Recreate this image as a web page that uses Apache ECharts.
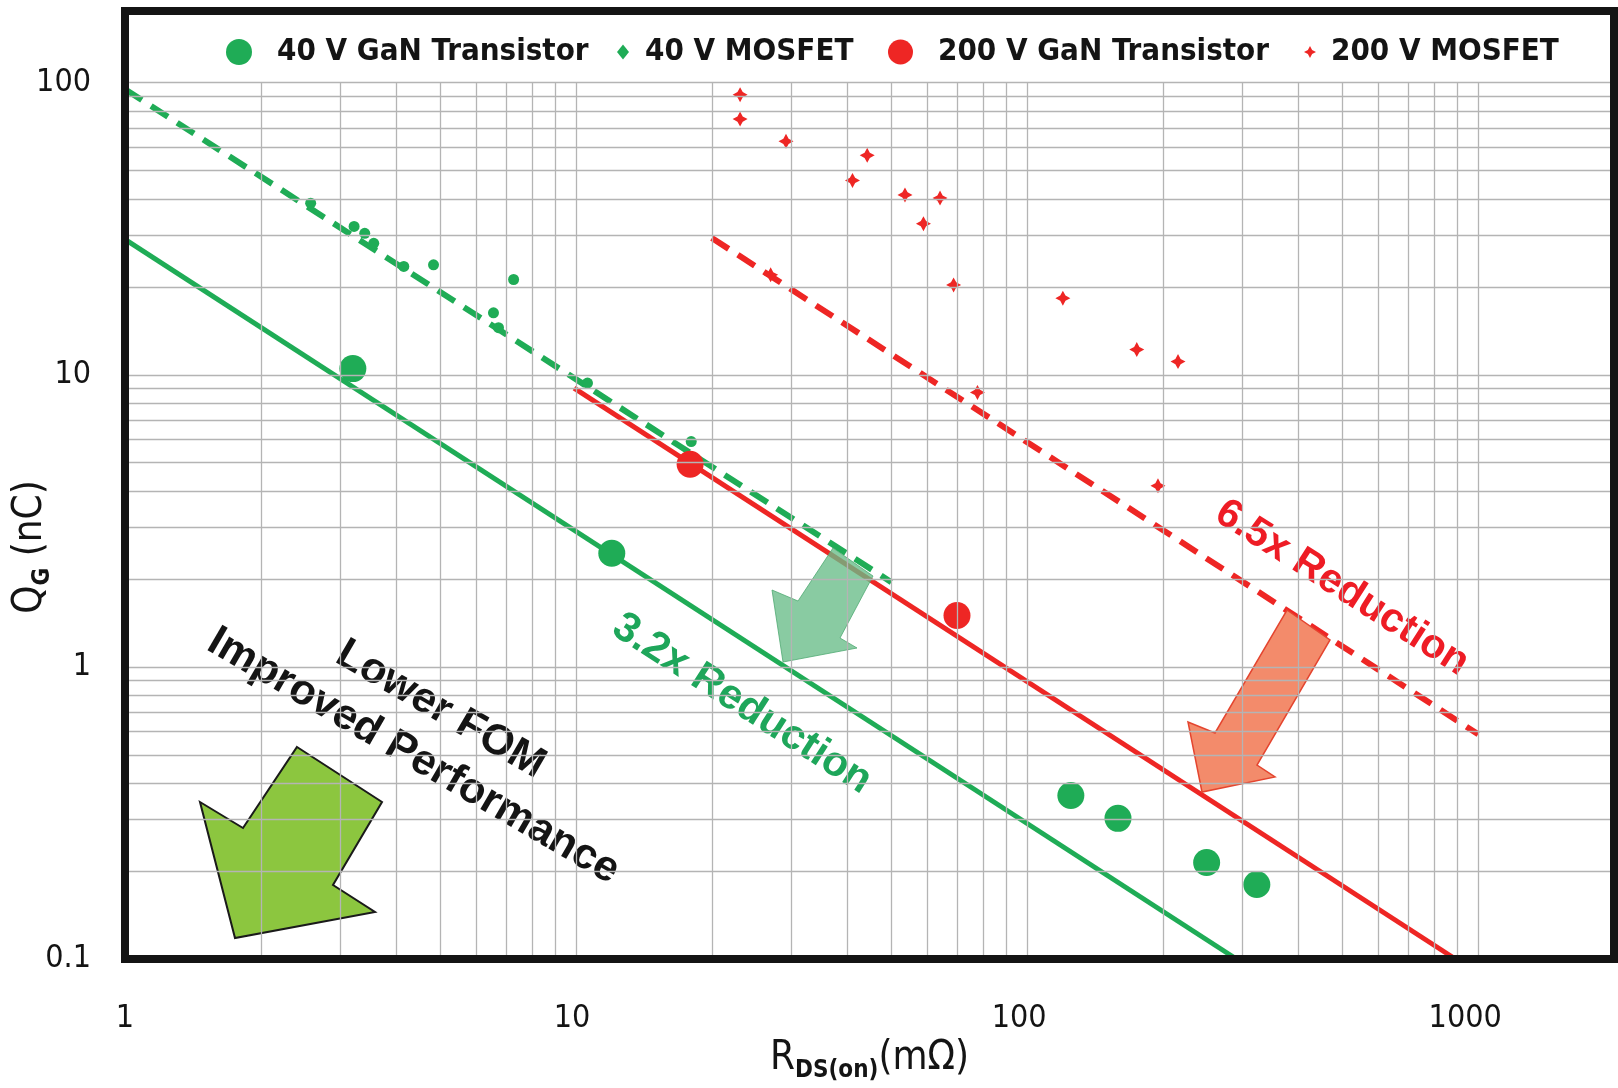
<!DOCTYPE html>
<html>
<head>
<meta charset="utf-8">
<script src="https://cdn.jsdelivr.net/npm/echarts@6/dist/echarts.min.js"></script>
<style>
  html, body { margin: 0; padding: 0; background: #fff; }
  #main { width: 1618px; height: 1088px; }
</style>
</head>
<body>
<div id="main"></div>
<script>
// gate charge vs on-resistance, 40 V and 200 V, GaN vs MOSFET
var ganX40 = [3.2, 12.0, 125, 159, 250, 323];
var ganY40 = [10.5, 2.45, 0.363, 0.303, 0.214, 0.180];
var mosX40 = [2.58, 3.22, 3.4, 3.56, 4.15, 4.83, 6.56, 6.73, 7.27, 10.6, 18.0];
var mosY40 = [38.7, 32.2, 30.5, 28.2, 23.5, 23.8, 16.3, 14.5, 21.2, 9.37, 5.91];
var ganX200 = [17.9, 69.9];
var ganY200 = [4.94, 1.50];
var mosX200 = [23.1, 23.1, 29.2, 44.2, 41.0, 53.6, 64.1, 58.9, 68.7, 120, 175, 216, 27.0, 77.6, 195];
var mosY200 = [91.0, 75.1, 63.0, 56.4, 46.3, 41.3, 40.3, 32.9, 20.3, 18.3, 12.2, 11.1, 22.0, 8.7, 4.17];

// trend lines (end points)
var fitGan40X = [1, 291],   fitGan40Y = [29.1, 0.1];
var fitGan200X = [9.9, 890], fitGan200Y = [9.0, 0.1];
var fitMos40X = [1, 50],    fitMos40Y = [95, 1.95];
var fitMos200X = [20, 1000], fitMos200Y = [29.4, 0.588];

// grid lines
var gridX = [2,3,4,5,6,7,8,9,10,20,30,40,50,60,70,80,90,100,200,300,400,500,600,700,800,900,1000];
var gridY = [0.2,0.3,0.4,0.5,0.6,0.7,0.8,0.9,1,2,3,4,5,6,7,8,9,10,20,30,40,50,60,70,80,90,100];

var legendNames = ['40 V GaN Transistor', '40 V MOSFET', '200 V GaN Transistor', '200 V MOSFET'];

var GREEN = '#1fac56', RED = '#ee2624';
var NARROW = "'Liberation Sans Narrow', 'Arial Narrow', 'DejaVu Sans Condensed', sans-serif";
var ARIAL = "'Liberation Sans', Arial, sans-serif";
var STAR = 'path://M0,-10 L3.5,-3.5 L10,0 L3.5,3.5 L0,10 L-3.5,3.5 L-10,0 L-3.5,-3.5 Z';

function zip(xs, ys) {
    return xs.map(function (x, i) { return [x, ys[i]]; });
}

// decade labels only; the printed ones sit a little left of their grid line
function decadeLabel(v) {
    var k = Math.log(v) / Math.LN10;
    if (Math.abs(k - Math.round(k)) > 1e-6) return '';
    return String(+v.toPrecision(4));
}
function xLabel(v) {
    var s = decadeLabel(v);
    return s ? '{d' + s.length + '|' + s + '}' : '';
}

var gridLines = gridX.map(function (x) {
    return [{coord: [x, 0.1]}, {coord: [x, 100]}];
}).concat(gridY.map(function (y) {
    return {yAxis: y};
}));

function fitLine(xs, ys, color, dashed) {
    return {
        type: 'line',
        data: zip(xs, ys),
        symbol: 'none',
        silent: true,
        z: 3,
        lineStyle: {
            color: color,
            width: dashed ? 6 : 5,
            type: dashed ? [20, 11] : 'solid'
        }
    };
}

function legendAt(name, icon, left, size, pad, color) {
    return {
        left: left,
        top: 32,
        padding: 0,
        selectedMode: false,
        itemWidth: size[0],
        itemHeight: size[1],
        data: [{name: name, icon: icon, itemStyle: {color: color}}],
        textStyle: {
            fontFamily: NARROW, fontWeight: 'bold', fontSize: 31,
            color: '#141414', lineHeight: 40, padding: [0, 0, 0, pad]
        }
    };
}

var subStyle = {fontFamily: NARROW, fontSize: 24, lineHeight: 22, verticalAlign: 'bottom', color: '#141414', fontWeight: 'bold'};

var myChart = echarts.init(document.getElementById('main'));

var option = {
    backgroundColor: '#fff',
    animation: false,
    grid: {
        left: 125, right: 4, top: 11, bottom: 129,
        containLabel: false, outerBoundsMode: 'none',
        show: true, z: 6,
        borderColor: '#141414', borderWidth: 8,
        backgroundColor: 'transparent'
    },
    legend: [
        legendAt(legendNames[0], 'circle', 226, [26, 26], 20, GREEN),
        legendAt(legendNames[1], 'diamond', 617, [12, 15], 11, GREEN),
        legendAt(legendNames[2], 'circle', 888, [25, 25], 20, RED),
        legendAt(legendNames[3], STAR, 1304, [12, 12], 10, RED)
    ],
    xAxis: {
        type: 'log', logBase: 10, min: 1, max: 2000,
        axisLine: {show: false}, axisTick: {show: false}, splitLine: {show: false},
        axisLabel: {
            margin: 44, fontFamily: NARROW, fontSize: 32, color: '#141414',
            formatter: xLabel,
            rich: {
                d1: {fontFamily: NARROW, fontSize: 32, color: '#141414'},
                d2: {fontFamily: NARROW, fontSize: 32, color: '#141414', padding: [0, 8, 0, 0]},
                d3: {fontFamily: NARROW, fontSize: 32, color: '#141414', padding: [0, 16, 0, 0]},
                d4: {fontFamily: NARROW, fontSize: 32, color: '#141414', padding: [0, 26, 0, 0]}
            }
        },
        name: 'R{sub|DS(on)}(mΩ)',
        nameLocation: 'middle',
        nameGap: 76,
        nameMoveOverlap: false,
        nameTextStyle: {
            fontFamily: NARROW, fontSize: 40, color: '#141414', lineHeight: 48,
            rich: {sub: subStyle}
        }
    },
    yAxis: {
        type: 'log', logBase: 10, min: 0.1, max: 176,
        axisLine: {show: false}, axisTick: {show: false}, splitLine: {show: false},
        axisLabel: {
            margin: 34, fontFamily: NARROW, fontSize: 32, color: '#141414',
            formatter: decadeLabel
        },
        name: 'Q{sub|G} (nC)',
        nameLocation: 'middle',
        nameRotate: 90,
        nameGap: 70,
        nameMoveOverlap: false,
        nameTextStyle: {
            fontFamily: NARROW, fontSize: 40, color: '#141414', lineHeight: 48,
            padding: [0, 124, 0, 0],
            rich: {sub: subStyle}
        }
    },
    series: [
        {
            type: 'line', data: [], z: 1, silent: true,
            markLine: {
                silent: true, symbol: ['none', 'none'], animation: false,
                label: {show: false},
                lineStyle: {color: '#b4b4b4', width: 1.3, type: 'solid'},
                data: gridLines
            }
        },
        fitLine(fitGan40X, fitGan40Y, GREEN, false),
        fitLine(fitGan200X, fitGan200Y, RED, false),
        fitLine(fitMos40X, fitMos40Y, GREEN, true),
        fitLine(fitMos200X, fitMos200Y, RED, true),
        {
            name: legendNames[1], type: 'scatter', z: 4,
            symbol: 'circle', symbolSize: 11,
            itemStyle: {color: GREEN, opacity: 1},
            data: zip(mosX40, mosY40)
        },
        {
            name: legendNames[3], type: 'scatter', z: 4,
            symbol: STAR, symbolSize: 15,
            itemStyle: {color: RED, opacity: 1},
            data: zip(mosX200, mosY200)
        },
        {
            name: legendNames[0], type: 'scatter', z: 4,
            symbol: 'circle', symbolSize: 27,
            itemStyle: {color: GREEN, opacity: 1},
            data: zip(ganX40, ganY40)
        },
        {
            name: legendNames[2], type: 'scatter', z: 4,
            symbol: 'circle', symbolSize: 27,
            itemStyle: {color: RED, opacity: 1},
            data: zip(ganX200, ganY200)
        }
    ],
    graphic: [
        {
            type: 'text', z: 2, x: 427, y: 733, rotation: -30.2 * Math.PI / 180,
            style: {
                text: 'Lower FOM\nImproved Performance',
                x: 0, y: 0, align: 'center', verticalAlign: 'middle',
                fontFamily: ARIAL, fontWeight: 'bold', fontSize: 43, lineHeight: 54,
                fill: '#141414', backgroundColor: '#fff', padding: [6, 14]
            }
        },
        {
            type: 'text', z: 2, x: 742, y: 704, rotation: -32.7 * Math.PI / 180,
            style: {
                text: '3.2x Reduction',
                x: 0, y: 0, align: 'center', verticalAlign: 'middle',
                fontFamily: ARIAL, fontWeight: 'bold', fontSize: 42,
                fill: '#1ea65a', backgroundColor: '#fff', padding: [4, 12]
            }
        },
        {
            type: 'text', z: 2, x: 1342, y: 588, rotation: -32.6 * Math.PI / 180,
            style: {
                text: '6.5x Reduction',
                x: 0, y: 0, align: 'center', verticalAlign: 'middle',
                fontFamily: ARIAL, fontWeight: 'bold', fontSize: 41,
                fill: '#ee1c25', backgroundColor: '#fff', padding: [4, 12]
            }
        },
        {
            // big "lower FOM" arrow
            type: 'polygon', z: 5,
            shape: {points: [[297, 747], [382, 802], [333, 885], [375, 912], [235, 938], [200, 802], [243, 828]]},
            style: {fill: '#8cc63f', stroke: '#1a1a1a', lineWidth: 2}
        },
        {
            // 40 V reduction arrow
            type: 'polygon', z: 5,
            shape: {points: [[833, 548], [873, 576], [840, 638], [857, 648], [783, 662], [772, 590], [798, 601]]},
            style: {fill: 'rgba(104,188,136,0.78)', stroke: 'rgba(80,170,115,0.8)', lineWidth: 1}
        },
        {
            // 200 V reduction arrow
            type: 'polygon', z: 5,
            shape: {points: [[1287, 610], [1330, 640], [1257, 765], [1275, 777], [1202, 792], [1188, 722], [1215, 733]]},
            style: {fill: '#f38b6b', stroke: '#e4452f', lineWidth: 1.5}
        }
    ]
};

myChart.setOption(option);
</script>
</body>
</html>
